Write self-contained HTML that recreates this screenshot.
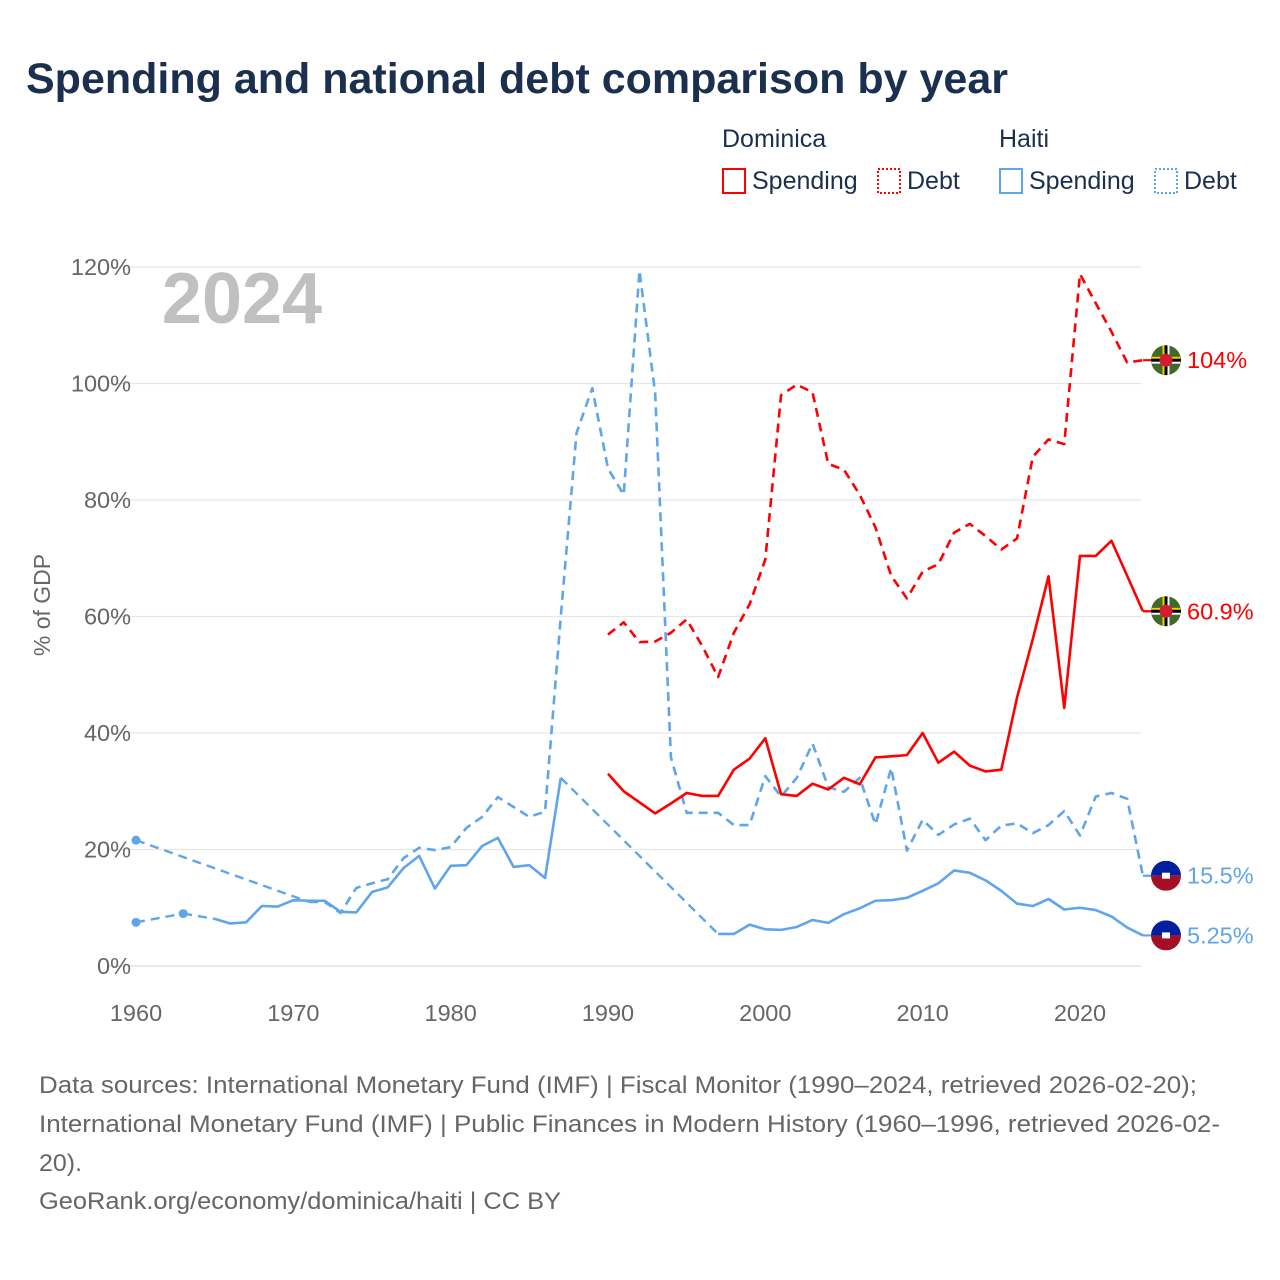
<!DOCTYPE html>
<html><head><meta charset="utf-8"><style>
body{margin:0;width:1280px;height:1280px;background:#fff;font-family:"Liberation Sans",sans-serif;overflow:hidden}
svg{display:block}
</style></head><body>
<svg id="chart" width="1280" height="1280">
<text x="26" y="93" font-size="43" font-weight="bold" fill="#1b2f4f">Spending and national debt comparison by year</text>
<g font-size="25" fill="#1b2f4f">
<text x="722" y="147">Dominica</text>
<text x="999" y="147">Haiti</text>
<g><rect x="723" y="169" width="22" height="24" fill="none" stroke="#ff0000" stroke-width="2"/><text x="752" y="189">Spending</text></g>
<g><rect x="878" y="169" width="22" height="24" fill="none" stroke="#ff0000" stroke-width="2" stroke-dasharray="2,2"/><text x="907" y="189">Debt</text></g>
<g><rect x="1000" y="169" width="22" height="24" fill="none" stroke="#5fa5ec" stroke-width="2"/><text x="1029" y="189">Spending</text></g>
<g><rect x="1155" y="169" width="22" height="24" fill="none" stroke="#5fa5ec" stroke-width="2" stroke-dasharray="2,2"/><text x="1184" y="189">Debt</text></g>
</g>
<text x="242" y="323" font-size="72" font-weight="bold" fill="#c0c0c0" text-anchor="middle">2024</text>
<text transform="translate(50,605) rotate(-90)" font-size="23" fill="#666" text-anchor="middle">% of GDP</text>
<g id="grid"></g>
<g id="series"></g>
<g id="flags"></g>
<g font-size="24" fill="#666">
<text x="39" y="1093" textLength="1158" lengthAdjust="spacingAndGlyphs">Data sources: International Monetary Fund (IMF) | Fiscal Monitor (1990–2024, retrieved 2026-02-20);</text>
<text x="39" y="1132" textLength="1181" lengthAdjust="spacingAndGlyphs">International Monetary Fund (IMF) | Public Finances in Modern History (1960–1996, retrieved 2026-02-</text>
<text x="39" y="1171" textLength="43" lengthAdjust="spacingAndGlyphs">20).</text>
<text x="39" y="1209" textLength="522" lengthAdjust="spacingAndGlyphs">GeoRank.org/economy/dominica/haiti | CC BY</text>
</g>
</svg>
<script>
const yTicks=[0,20,40,60,80,100,120];
const xTicks=[1960,1970,1980,1990,2000,2010,2020];
const domYears=[1990,1991,1992,1993,1994,1995,1996,1997,1998,1999,2000,2001,2002,2003,2004,2005,2006,2007,2008,2009,2010,2011,2012,2013,2014,2015,2016,2017,2018,2019,2020,2021,2022,2023,2024];
const domSpending=[33,30,28.1,26.2,27.9,29.7,29.2,29.2,33.7,35.6,39.1,29.5,29.2,31.3,30.3,32.3,31.2,35.8,36,36.2,40,34.9,36.8,34.4,33.4,33.7,46.1,56.1,66.9,44.3,70.4,70.4,73,67,60.9];
const domDebt=[56.9,59,55.6,55.7,57.2,59.5,54.9,49.6,57.2,62.1,69.8,98,99.8,98.5,86.2,85.2,80.9,75.3,67,63.1,67.7,69,74.4,75.9,73.8,71.5,73.4,87.4,90.4,89.6,118.8,113.8,108.9,103.6,104];
const haiSpendYears=[1960,1963,1965,1966,1967,1968,1969,1970,1971,1972,1973,1974,1975,1976,1977,1978,1979,1980,1981,1982,1983,1984,1985,1986,1987,1997,1998,1999,2000,2001,2002,2003,2004,2005,2006,2007,2008,2009,2010,2011,2012,2013,2014,2015,2016,2017,2018,2019,2020,2021,2022,2023,2024];
const haiSpending=[7.5,9,8.1,7.3,7.5,10.3,10.2,11.3,11.2,11.2,9.3,9.2,12.7,13.5,16.8,18.9,13.3,17.2,17.3,20.6,22,17,17.3,15.1,32.3,5.5,5.5,7.1,6.3,6.2,6.7,7.9,7.4,8.9,9.9,11.2,11.3,11.7,12.9,14.2,16.4,16,14.7,12.9,10.7,10.3,11.5,9.7,10,9.6,8.5,6.6,5.25];
const haiDebtYears=[1960,1971,1972,1973,1974,1975,1976,1977,1978,1979,1980,1981,1982,1983,1984,1985,1986,1987,1988,1989,1990,1991,1992,1993,1994,1995,1996,1997,1998,1999,2000,2001,2002,2003,2004,2005,2006,2007,2008,2009,2010,2011,2012,2013,2014,2015,2016,2017,2018,2019,2020,2021,2022,2023,2024];
const haiDebt=[21.6,11,11,9.1,13.4,14.2,14.9,18.5,20.3,19.9,20.4,23.7,25.6,29,27.3,25.6,26.5,60,91.5,99.2,85.4,80.9,119.4,98.3,35.8,26.3,26.3,26.3,24.2,24.2,32.6,29.1,32.3,38.2,30.7,29.9,32.3,24.3,34,19.8,25.1,22.5,24.3,25.3,21.6,24.1,24.5,22.8,24.2,26.6,22.4,29.1,29.7,28.7,15.5];
const endLabels=["104%","60.9%","15.5%","5.25%"];

const X=y=>136+(y-1960)*15.733;
const Y=v=>966-v*5.825;
const NS="http://www.w3.org/2000/svg";
function mk(tag,attrs,parent){const e=document.createElementNS(NS,tag);for(const k in attrs)e.setAttribute(k,attrs[k]);parent.appendChild(e);return e;}
const grid=document.getElementById('grid');
yTicks.forEach(t=>{
 const l=mk('line',{x1:108,x2:1141,y1:Y(t),y2:Y(t),stroke:t===0?'#ddd':'#e6e6e6','stroke-width':1.3},grid);
 
 
 const tx=mk('text',{x:131,y:Y(t)+8,'font-size':23.5,fill:'#666','text-anchor':'end'},grid);
 tx.textContent=t+'%';
 
 
});
xTicks.forEach(t=>{
 const tx=mk('text',{x:X(t),y:1021,'font-size':23.5,fill:'#666','text-anchor':'middle'},grid);
 tx.textContent=t;
 
 
});
const ser=document.getElementById('series');
function draw(years,vals,color,debt,name){
 const g=mk('g',{},ser);
 
 
 let seg=[];const segs=[];
 for(let i=0;i<years.length;i++){
  if(i>0&&years[i]-years[i-1]>1){
   mk('line',{x1:X(years[i-1]),y1:Y(vals[i-1]),x2:X(years[i]),y2:Y(vals[i]),stroke:color,'stroke-width':2.4,'stroke-dasharray':'9,6'},g);
   segs.push(seg);seg=[];
  }
  seg.push([X(years[i]),Y(vals[i])]);
 }
 segs.push(seg);
 segs.forEach(s=>{
  if(s.length===1){mk('circle',{cx:s[0][0],cy:s[0][1],r:4.5,fill:color},g);return;}
  const attrs={points:s.map(p=>p.join(',')).join(' '),fill:'none',stroke:color,'stroke-width':2.6,'stroke-linejoin':'round'};
  if(debt)attrs['stroke-dasharray']='9,6';
  mk('polyline',attrs,g);
 });
 const ly=Y(vals[vals.length-1]);
 const tail=mk('line',{x1:X(years[years.length-1]),y1:ly,x2:1160,y2:ly,stroke:color,'stroke-width':2.2},g);
 if(debt)tail.setAttribute('stroke-dasharray','9,6');
}
draw(haiDebtYears,haiDebt,'#5fa5ec',true,'haiti-debt-line');
draw(haiSpendYears,haiSpending,'#5fa5ec',false,'haiti-spending-line');
draw(domYears,domDebt,'#ff0000',true,'dominica-debt-line');
draw(domYears,domSpending,'#ff0000',false,'dominica-spending-line');

const flags=document.getElementById('flags');
function flag(v,country,label,color){
 const cy=Y(v),cx=1166;
 const g=mk('g',{},flags);
 
 
 const id='c'+Math.round(cy);
 const cp=mk('clipPath',{id:id},g);mk('circle',{cx:cx,cy:cy,r:15},cp);
 const f=mk('g',{'clip-path':'url(#'+id+')'},g);
 if(country.startsWith('dominica')){
  mk('rect',{x:cx-15,y:cy-15,width:30,height:30,fill:'#3f6a2a'},f);
  mk('rect',{x:cx-15,y:cy-3.5,width:30,height:7,fill:'#000'},f);
  mk('rect',{x:cx-15,y:cy-3.5,width:30,height:2,fill:'#f5d000'},f);
  mk('rect',{x:cx-15,y:cy+1.5,width:30,height:2,fill:'#fff'},f);
  mk('rect',{x:cx-3.5,y:cy-15,width:7,height:30,fill:'#000'},f);
  mk('rect',{x:cx-3.5,y:cy-15,width:2,height:30,fill:'#f5d000'},f);
  mk('rect',{x:cx+1.5,y:cy-15,width:2,height:30,fill:'#fff'},f);
  mk('circle',{cx:cx,cy:cy,r:6.5,fill:'#d41c30'},f);
 }else{
  mk('rect',{x:cx-15,y:cy-15,width:30,height:15,fill:'#00209f'},f);
  mk('rect',{x:cx-15,y:cy,width:30,height:15,fill:'#a50f25'},f);
  mk('rect',{x:cx-4,y:cy-3,width:8,height:6,fill:'#fff'},f);
 }
 const t=mk('text',{x:1187,y:cy+8,'font-size':23.5,fill:color},g);
 t.textContent=label;
}
flag(domDebt[domDebt.length-1],'dominica-debt',endLabels[0],'#ff0000');
flag(domSpending[domSpending.length-1],'dominica-spending',endLabels[1],'#ff0000');
flag(haiDebt[haiDebt.length-1],'haiti-debt',endLabels[2],'#5fa5ec');
flag(haiSpending[haiSpending.length-1],'haiti-spending',endLabels[3],'#5fa5ec');
</script>
</body></html>
